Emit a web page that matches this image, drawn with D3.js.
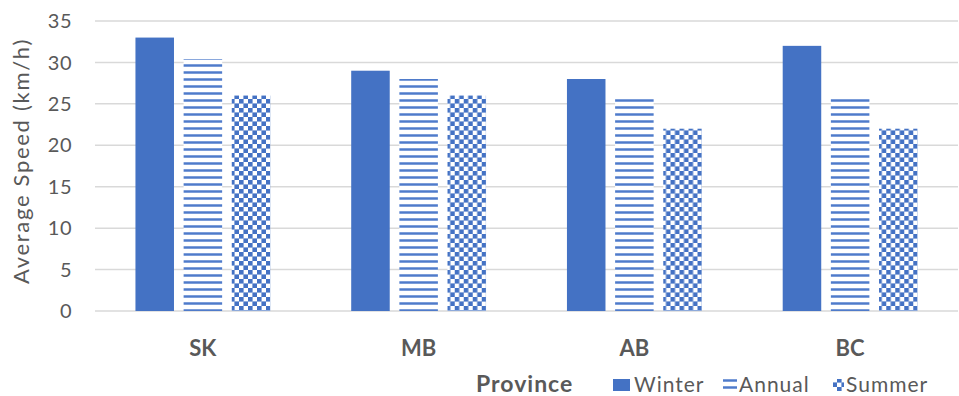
<!DOCTYPE html>
<html>
<head>
<meta charset="utf-8">
<script src="https://cdn.jsdelivr.net/npm/d3@7"></script>
<style>
  body { margin: 0; background: #fff; }
  svg text { font-family: Lato, "Noto Sans", sans-serif; fill: #595959; }
</style>
</head>
<body>
<svg width="959" height="396"></svg>
<script>
// data
var provinces = ["SK", "MB", "AB", "BC"];
var series = ["Winter", "Annual", "Summer"];
var winter = [33, 29, 28, 32];
var annual = [30.4, 28, 26, 26];
var summer = [26, 26, 22, 22];
var yTicks = [0, 5, 10, 15, 20, 25, 30, 35];

var values = { Winter: winter, Annual: annual, Summer: summer };
var fills = { Winter: "#4472C4", Annual: "url(#hlines)", Summer: "url(#checker)" };

var svg = d3.select("svg");
var plotLeft = 95, plotRight = 958, plotTop = 21, plotBottom = 311;

// patterns
var defs = svg.append("defs");
var hp = defs.append("pattern").attr("id", "hlines").attr("patternUnits", "userSpaceOnUse")
    .attr("width", 7).attr("height", 7);
hp.append("rect").attr("width", 7).attr("height", 7).attr("fill", "#fff");
hp.append("rect").attr("y", 1).attr("width", 7).attr("height", 3).attr("fill", "#a9c0e8");
hp.append("rect").attr("y", 1.5).attr("width", 7).attr("height", 2).attr("fill", "#4f7bca");

var cp = defs.append("pattern").attr("id", "checker").attr("patternUnits", "userSpaceOnUse")
    .attr("width", 9).attr("height", 9);
cp.append("rect").attr("width", 9).attr("height", 9).attr("fill", "#fff");
cp.append("rect").attr("width", 4.6).attr("height", 4.6).attr("fill", "#4472C4");
cp.append("rect").attr("x", 4.4).attr("y", 4.4).attr("width", 4.6).attr("height", 4.6).attr("fill", "#4472C4");

var x0 = d3.scaleBand().domain(provinces).range([plotLeft, plotRight]);
var x1 = d3.scaleBand().domain(series).range([0, x0.bandwidth()])
    .paddingInner(0.2).paddingOuter(0.84);
var y = d3.scaleLinear().domain([0, 35]).range([plotBottom, plotTop]);

// gridlines
svg.append("g").selectAll("line").data(yTicks).enter().append("line")
    .attr("x1", plotLeft).attr("x2", plotRight)
    .attr("y1", function(d){ return y(d); }).attr("y2", function(d){ return y(d); })
    .attr("stroke", "#d9d9d9").attr("stroke-width", 1.5);

// y tick labels
svg.append("g").selectAll("text").data(yTicks).enter().append("text")
    .attr("x", 72).attr("y", function(d){ return y(d); }).attr("dy", "0.36em")
    .attr("text-anchor", "end").attr("font-size", "20px").attr("letter-spacing", "0.5px")
    .text(function(d){ return d; });

svg.append("text").attr("transform", "translate(29,161) rotate(-90)")
    .attr("text-anchor", "middle").attr("font-size", "22px").attr("letter-spacing", "1.7px")
    .text("Average Speed (km/h)");

// bars
var groups = svg.append("g").selectAll("g").data(provinces).enter().append("g")
    .attr("transform", function(d){ return "translate(" + x0(d) + ",0)"; });
groups.selectAll("rect").data(function(p, i){
        return series.map(function(s){ return { s: s, v: values[s][i] }; });
    }).enter().append("rect")
    .attr("x", function(d){ return x1(d.s); })
    .attr("y", function(d){ return y(d.v); })
    .attr("width", x1.bandwidth())
    .attr("height", function(d){ return plotBottom - y(d.v); })
    .attr("fill", function(d){ return fills[d.s]; });

// category labels
svg.append("g").selectAll("text").data(provinces).enter().append("text")
    .attr("x", function(d){ return x0(d) + x0.bandwidth() / 2; }).attr("y", 356)
    .attr("text-anchor", "middle").attr("font-size", "22px").attr("font-weight", "bold")
    .text(function(d){ return d; });

// legend
var lg = svg.append("g");
lg.append("text").attr("x", 476).attr("y", 392).attr("font-size", "23px")
    .attr("font-weight", "bold").attr("letter-spacing", "1px").text("Province");
var legX = [613, 723, 833];
var legW = [17, 14, 11];
var legT = [634, 739, 846];
series.forEach(function(s, i){
    lg.append("rect").attr("x", legX[i]).attr("y", 379).attr("width", legW[i]).attr("height", 12)
        .attr("fill", fills[s]);
    lg.append("text").attr("x", legT[i]).attr("y", 392).attr("font-size", "21px")
        .attr("letter-spacing", "1px").text(s);
});
</script>
</body>
</html>
